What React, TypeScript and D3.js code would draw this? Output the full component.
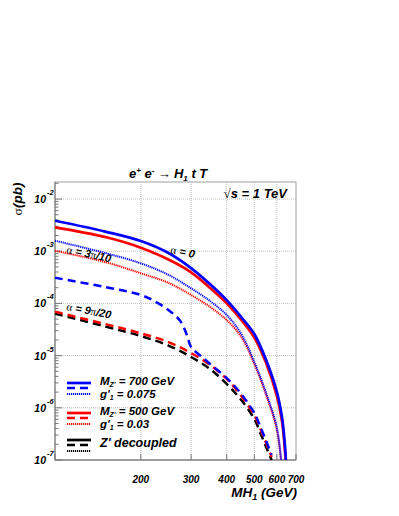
import React from 'react';
import * as d3 from 'd3';

// cross sections (pb), sqrt(s) = 1 TeV
const solidMass = [100, 150, 200, 250, 300, 350, 400, 450, 500, 550, 600, 625, 640, 648];
const blueSolid = [3.84e-3, 2.38e-3, 1.57e-3, 9.25e-4, 4.76e-4, 2.33e-4, 1.16e-4, 5.48e-5, 2.59e-5, 8.24e-6, 2.01e-6, 6.67e-7, 1.94e-7, 6.4e-8];
const redSolid = [2.87e-3, 1.87e-3, 1.17e-3, 6.93e-4, 3.94e-4, 1.97e-4, 1.0e-4, 4.81e-5, 2.22e-5, 7.2e-6, 1.68e-6, 5.58e-7, 1.56e-7, 4.5e-8];

const dottedMass = [100, 150, 200, 250, 300, 350, 400, 450, 500, 550, 600, 625];
const blueDotted = [1.59e-3, 9.25e-4, 5.86e-4, 3.53e-4, 1.95e-4, 1.11e-4, 6.0e-5, 2.59e-5, 7.53e-6, 1.92e-6, 4.1e-7, 6.5e-8];
const redDotted = [1.02e-3, 6.21e-4, 3.78e-4, 2.48e-4, 1.45e-4, 8.53e-5, 4.81e-5, 2.27e-5, 6.9e-6, 1.76e-6, 3.76e-7, 5.9e-8];

const blueDashMass = [100, 150, 200, 225, 250, 275, 290, 300, 325, 350, 400, 450, 500, 525, 550, 575];
const blueDashed = [3.1e-4, 2.06e-4, 1.45e-4, 1.08e-4, 7.48e-5, 4.62e-5, 2.48e-5, 1.46e-5, 9.8e-6, 6.9e-6, 3.72e-6, 1.84e-6, 7.9e-7, 4.3e-7, 2.31e-7, 1.25e-7];

const dashMass = [100, 150, 200, 250, 300, 350, 400, 450, 500, 525, 550, 575];
const redDashed = [6.93e-5, 4.03e-5, 2.67e-5, 1.82e-5, 1.12e-5, 6.6e-6, 3.57e-6, 1.68e-6, 7.27e-7, 3.93e-7, 2.12e-7, 1.14e-7];
const blackDashed = [6.4e-5, 3.61e-5, 2.37e-5, 1.56e-5, 9.4e-6, 5.53e-6, 2.86e-6, 1.41e-6, 6.1e-7, 3.29e-7, 1.77e-7, 1.0e-7];

const xTickLabels = [200, 300, 400, 500, 600, 700];
const xGridValues = [200, 300, 400, 500, 600];
const yExponents = [-7, -6, -5, -4, -3, -2];

const FONT = 'Liberation Sans, Arial, Helvetica, sans-serif';
const SERIF = 'Liberation Serif, Times New Roman, serif';

const frame = { left: 55, right: 296, top: 182, bottom: 460 };

export default function App() {
  const x = d3.scaleLog().domain([100, 700]).range([frame.left, frame.right]);
  const y = d3.scaleLog().domain([1e-7, 0.0212]).range([frame.bottom, frame.top]);

  const line = d3
    .line<[number, number]>()
    .x((d) => x(d[0]))
    .y((d) => y(d[1]))
    .curve(d3.curveCatmullRom.alpha(0.5));

  const path = (mass: number[], vals: number[]) =>
    line(mass.map((m, i) => [m, vals[i]] as [number, number])) || '';

  const series = [
    { d: path(dottedMass, redDotted), color: '#ff0000', w: 2, dash: '1.2,0.8' },
    { d: path(dottedMass, blueDotted), color: '#0000ff', w: 2, dash: '1.2,0.8' },
    { d: path(dashMass, blackDashed), color: '#000000', w: 2.5, dash: '8,5' },
    { d: path(dashMass, redDashed), color: '#ff0000', w: 2.5, dash: '8,5' },
    { d: path(blueDashMass, blueDashed), color: '#0000ff', w: 2.5, dash: '8,5' },
    { d: path(solidMass, redSolid), color: '#ff0000', w: 2.7, dash: undefined },
    { d: path(solidMass, blueSolid), color: '#0000ff', w: 2.7, dash: undefined },
  ];

  // minor log ticks on the y axis
  const minorY: number[] = [];
  yExponents.forEach((e) => {
    for (let k = 2; k <= 9; k++) {
      const v = k * Math.pow(10, e);
      if (v < y.domain()[1]) minorY.push(v);
    }
  });

  const legend = [
    { y0: 383, color: '#0000ff', label1: '700 GeV', label2: '0.075' },
    { y0: 413, color: '#ff0000', label1: '500 GeV', label2: '0.03' },
  ];

  const sym = { fontFamily: SERIF, fontWeight: 'normal', fontStyle: 'normal' } as const;

  return (
    <svg width={399} height={516} style={{ position: 'absolute', left: 0, top: 0, background: '#fff' }}>
      <defs>
        <clipPath id="frameClip">
          <rect x={frame.left} y={frame.top} width={frame.right - frame.left} height={frame.bottom - frame.top} />
        </clipPath>
      </defs>

      {/* grid */}
      {xGridValues.map((v) => (
        <line key={'gx' + v} x1={x(v)} x2={x(v)} y1={frame.top} y2={frame.bottom} stroke="#bdbdbd" strokeWidth={1} strokeDasharray="1,1" />
      ))}
      {yExponents.map((e) => (
        <line key={'gy' + e} x1={frame.left} x2={frame.right} y1={y(Math.pow(10, e))} y2={y(Math.pow(10, e))} stroke="#bdbdbd" strokeWidth={1} strokeDasharray="1,1" />
      ))}

      {/* frame */}
      <rect x={frame.left} y={frame.top} width={frame.right - frame.left} height={frame.bottom - frame.top} fill="none" stroke="#a0a0a0" strokeWidth={1} />
      <line x1={frame.left} x2={frame.left} y1={frame.top} y2={frame.bottom} stroke="#777" strokeWidth={1} />
      <line x1={frame.left} x2={frame.right} y1={frame.bottom} y2={frame.bottom} stroke="#777" strokeWidth={1} />

      {/* ticks */}
      {yExponents.map((e) => (
        <line key={'ty' + e} x1={frame.left} x2={frame.left + 7} y1={y(Math.pow(10, e))} y2={y(Math.pow(10, e))} stroke="#777" />
      ))}
      {minorY.map((v, i) => (
        <line key={'my' + i} x1={frame.left} x2={frame.left + 3.5} y1={y(v)} y2={y(v)} stroke="#777" />
      ))}
      {[100, 200, 300, 400, 500, 600, 700].map((v) => (
        <line key={'tx' + v} x1={x(v)} x2={x(v)} y1={frame.bottom} y2={frame.bottom - 6} stroke="#777" />
      ))}

      {/* curves */}
      <g clipPath="url(#frameClip)">
        {series.map((s, i) => (
          <path key={i} d={s.d} fill="none" stroke={s.color} strokeWidth={s.w} strokeDasharray={s.dash} />
        ))}
      </g>

      {/* y tick labels */}
      {yExponents.map((e) => (
        <g key={'ly' + e} fontFamily={FONT} fontWeight="bold" fontStyle="italic" fill="#000">
          <text x={46} y={y(Math.pow(10, e)) + 4} fontSize={10.5} textAnchor="end">10</text>
          <text x={47} y={y(Math.pow(10, e)) - 4} fontSize={7.5}>{e}</text>
        </g>
      ))}

      {/* x tick labels */}
      {xTickLabels.map((v) => (
        <text key={'lx' + v} x={x(v)} y={483} fontSize={10} textAnchor="middle" fontFamily={FONT} fontWeight="bold" fontStyle="italic">
          {v}
        </text>
      ))}

      {/* axis titles */}
      <text x={297} y={497} textAnchor="end" fontSize={13.5} fontFamily={FONT} fontWeight="bold" fontStyle="italic">
        MH<tspan fontSize={9} dy={3}>1</tspan>
        <tspan dy={-3}> (GeV)</tspan>
      </text>
      <text transform="translate(22,199) rotate(-90)" textAnchor="middle" fontSize={13.5} fontFamily={FONT} fontWeight="bold" fontStyle="italic">
        <tspan {...sym}>σ</tspan>(pb)
      </text>

      {/* title */}
      <text x={129} y={178} fontSize={13} fontFamily={FONT} fontWeight="bold" fontStyle="italic">
        e<tspan fontSize={8} dy={-5}>+</tspan>
        <tspan dy={5}> e</tspan>
        <tspan fontSize={8} dy={-5}>-</tspan>
        <tspan dy={5} {...sym}> → </tspan>
        <tspan>H</tspan>
        <tspan fontSize={8} dy={3}>1</tspan>
        <tspan dy={-3}> t T</tspan>
      </text>
      <text x={287} y={198} textAnchor="end" fontSize={13} fontFamily={FONT} fontWeight="bold" fontStyle="italic">
        <tspan {...sym}>√</tspan>s = 1 TeV
      </text>

      {/* curve annotations */}
      <g fontFamily={FONT} fontWeight="bold" fontStyle="italic" fontSize={11}>
        <text transform="translate(170,253) rotate(12)">
          <tspan {...sym}>α</tspan> = 0
        </text>
        <text transform="translate(66,253) rotate(12)">
          <tspan {...sym}>α</tspan> = 3<tspan {...sym}>π</tspan>/10
        </text>
        <text transform="translate(66,310) rotate(11)">
          <tspan {...sym}>α</tspan> = 9<tspan {...sym}>π</tspan>/20
        </text>
      </g>

      {/* legend */}
      <g fontFamily={FONT} fontWeight="bold" fontStyle="italic">
        {legend.map((l) => (
          <g key={l.label1}>
            <line x1={67} x2={91} y1={l.y0} y2={l.y0} stroke={l.color} strokeWidth={2.7} />
            <line x1={67} x2={91} y1={l.y0 + 5} y2={l.y0 + 5} stroke={l.color} strokeWidth={2.5} strokeDasharray="8,5" />
            <line x1={67} x2={91} y1={l.y0 + 11} y2={l.y0 + 11} stroke={l.color} strokeWidth={2} strokeDasharray="1.2,0.8" />
            <text x={100} y={l.y0 + 2} fontSize={11.5}>
              M<tspan fontSize={7} dy={2}>Z'</tspan>
              <tspan dy={-2}> = {l.label1}</tspan>
            </text>
            <text x={100} y={l.y0 + 15} fontSize={11.5}>
              g'<tspan fontSize={7} dy={2}>1</tspan>
              <tspan dy={-2}> = {l.label2}</tspan>
            </text>
          </g>
        ))}
        <line x1={67} x2={91} y1={440} y2={440} stroke="#000" strokeWidth={2.7} />
        <line x1={67} x2={91} y1={445} y2={445} stroke="#000" strokeWidth={2.5} strokeDasharray="8,5" />
        <line x1={67} x2={91} y1={451} y2={451} stroke="#000" strokeWidth={2} strokeDasharray="1.2,0.8" />
        <text x={100} y={447} fontSize={12.5}>Z' decoupled</text>
      </g>
    </svg>
  );
}
